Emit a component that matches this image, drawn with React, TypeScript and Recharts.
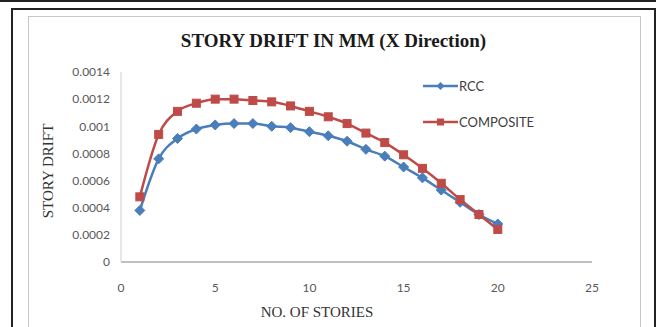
import React from 'react';
import { LineChart, Line, XAxis, YAxis } from 'recharts';

const stories = [1, 2, 3, 4, 5, 6, 7, 8, 9, 10, 11, 12, 13, 14, 15, 16, 17, 18, 19, 20];
const rccDrift = [
  0.00038, 0.00076, 0.00091, 0.00098, 0.00101, 0.00102, 0.00102, 0.001, 0.00099, 0.00096,
  0.00093, 0.00089, 0.00083, 0.00078, 0.0007, 0.00062, 0.00053, 0.00044, 0.00035, 0.00028,
];
const compositeDrift = [
  0.00048, 0.00094, 0.00111, 0.00117, 0.0012, 0.0012, 0.00119, 0.00118, 0.00115, 0.00111,
  0.00107, 0.00102, 0.00095, 0.00088, 0.00079, 0.00069, 0.00058, 0.00046, 0.00035, 0.00024,
];
const xTicks = [0, 5, 10, 15, 20, 25];
const yTicks = [0, 0.0002, 0.0004, 0.0006, 0.0008, 0.001, 0.0012, 0.0014];
const yTickLabels = ['0', '0.0002', '0.0004', '0.0006', '0.0008', '0.001', '0.0012', '0.0014'];

const data = stories.map((s, i) => ({ story: s, RCC: rccDrift[i], COMPOSITE: compositeDrift[i] }));

const BLUE = '#4a7ebb';
const RED = '#be4b48';

const Diamond = (props: any) => {
  const { cx, cy } = props;
  if (cx == null || cy == null) return null;
  return <path d={`M${cx},${cy - 5}L${cx + 5},${cy}L${cx},${cy + 5}L${cx - 5},${cy}Z`} fill={BLUE} stroke={BLUE} />;
};

const Square = (props: any) => {
  const { cx, cy } = props;
  if (cx == null || cy == null) return null;
  return <rect x={cx - 4} y={cy - 4} width={8} height={8} fill={RED} stroke={RED} />;
};

const tickStyle = { fontFamily: 'Lato, "Open Sans", sans-serif', fontSize: 12, fill: '#595959' };

function LegendBox() {
  const items = [
    { name: 'RCC', color: BLUE, square: false },
    { name: 'COMPOSITE', color: RED, square: true },
  ];
  return (
    <div style={{ fontFamily: 'Lato, sans-serif', fontSize: 13, color: '#404040' }}>
      {items.map((it) => (
        <div key={it.name} style={{ display: 'flex', alignItems: 'center', height: 36 }}>
          <svg width={35} height={12}>
            <line x1={0} y1={6} x2={35} y2={6} stroke={it.color} strokeWidth={2.5} />
            {it.square ? (
              <rect x={14} y={2.5} width={7} height={7} fill={it.color} />
            ) : (
              <path d="M17.5,2L21.5,6L17.5,10L13.5,6Z" fill={it.color} />
            )}
          </svg>
          <span style={{ marginLeft: 1 }}>{it.name}</span>
        </div>
      ))}
    </div>
  );
}

export default function App() {
  return (
    <div style={{ position: 'absolute', left: 0, top: 0, width: 656, height: 327, background: '#fff', overflow: 'hidden' }}>
      <div style={{ position: 'absolute', left: 0, top: 0, width: 656, height: 2, background: '#222' }} />
      <div style={{ position: 'absolute', left: 11, top: 8, width: 641, height: 340, border: '2px solid #222' }} />
      <div style={{ position: 'absolute', left: 28, top: 16, width: 611, height: 340, border: '1px solid #c8c8c8' }} />
      <div
        style={{
          position: 'absolute', left: 172, width: 323, top: 30, textAlign: 'center',
          fontFamily: '"Liberation Serif", "Times New Roman", serif', fontWeight: 'bold', fontSize: 19,
          color: '#1a1a1a', whiteSpace: 'nowrap',
        }}
      >
        STORY DRIFT IN MM (X Direction)
      </div>
      <div
        style={{
          position: 'absolute', left: 48, top: 171, transform: 'translate(-50%, -50%) rotate(-90deg)',
          fontFamily: '"Liberation Serif", serif', fontSize: 15, color: '#333', whiteSpace: 'nowrap',
        }}
      >
        STORY DRIFT
      </div>
      <div
        style={{
          position: 'absolute', left: 237, width: 160, top: 304, textAlign: 'center',
          fontFamily: '"Liberation Serif", serif', fontSize: 15, color: '#333', whiteSpace: 'nowrap',
        }}
      >
        NO. OF STORIES
      </div>
      <div style={{ position: 'absolute', left: 0, top: 0 }}>
        <LineChart width={656} height={327} data={data} margin={{ top: 72, right: 64, bottom: 0, left: 0 }}>
          <XAxis
            dataKey="story"
            type="number"
            domain={[0, 25]}
            ticks={xTicks}
            height={65}
            tickSize={0}
            tickMargin={21}
            tick={tickStyle}
            axisLine={{ stroke: '#c0c0c0', strokeWidth: 2 }}
          />
          <YAxis
            type="number"
            domain={[0, 0.0014]}
            ticks={yTicks}
            width={121}
            tickSize={0}
            tickMargin={11}
            tick={tickStyle}
            tickFormatter={(v: number) => yTickLabels[yTicks.indexOf(v)] ?? String(v)}
            axisLine={{ stroke: '#d0d0d0' }}
          />
          <Line
            type="monotone"
            dataKey="RCC"
            stroke={BLUE}
            strokeWidth={2.5}
            dot={<Diamond />}
            isAnimationActive={false}
          />
          <Line
            type="monotone"
            dataKey="COMPOSITE"
            stroke={RED}
            strokeWidth={2.5}
            dot={<Square />}
            isAnimationActive={false}
          />
        </LineChart>
      </div>
      <div style={{ position: 'absolute', left: 423, top: 68 }}>
        <LegendBox />
      </div>
    </div>
  );
}
